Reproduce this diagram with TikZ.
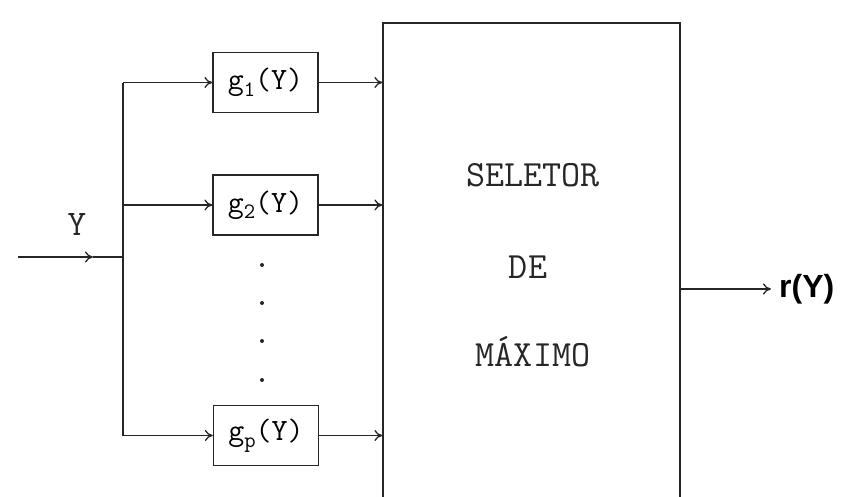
\documentclass[tikz,border=0pt]{standalone}
\usepackage{fontspec}
\newfontfamily\boldsans{Liberation Sans}[BoldFont={* Bold}]
\usetikzlibrary{arrows.meta}
\tikzset{
  line/.style={line width=1.3pt, draw=black!85},
  arr/.style={line, -{To[length=8pt,width=11pt,line width=1.3pt]}},
  gbox/.style={line, rectangle, minimum width=105pt, minimum height=60pt, inner sep=0pt,
    font=\ttfamily\fontsize{31}{33}\selectfont},
  seltext/.style={font=\ttfamily\fontsize{37}{39}\selectfont, text=black!85},
  dotmark/.style={circle, fill=black!85, inner sep=0pt, minimum size=4pt}
}
\newcommand{\gsub}[1]{\raisebox{-0.5ex}{\fontsize{22}{22}\selectfont #1}}
\begin{document}
\begin{tikzpicture}[x=1pt,y=-1pt]
\useasboundingbox (0,0) rectangle (844,496);
\clip (0,0) rectangle (844,496);
% main selector box (bottom runs off the picture)
\node[line, draw, rectangle, minimum width=297pt, minimum height=500pt, inner sep=0pt] (sel) at (531.5,273) {};
\node[seltext] (t1) at (533,175) {SELETOR};
\node[seltext] (t2) at (528,267) {DE};
\node[seltext] (t3) at (533,352) {MÁXIMO};
% g boxes
\node[gbox] (g1) at (265.5,82.5) {g\gsub{1}(Y)};
\node[gbox] (g2) at (265.5,205) {g\gsub{2}(Y)};
\node[gbox] (gp) at (266,435.5) {g\gsub{p}(Y)};
% input
\coordinate (in) at (18,257);
\coordinate (inmid) at (93,257);
\coordinate (jn) at (123,257);
\node[font=\ttfamily\fontsize{36}{38}\selectfont, text=black!85] (ylab) at (77,224) {Y};
\draw[arr] (in) -- (inmid);
\draw[line] (inmid) -- (jn);
\coordinate (b1) at (123,82.5);
\coordinate (b2) at (123,205);
\coordinate (bp) at (123,435.5);
\draw[line] (b1) -- (bp);
\draw[arr] (b1) -- (g1.west);
\draw[arr] (b2) -- (g2.west);
\draw[arr] (bp) -- (gp.west);
% to selector
\draw[arr] (g1.east) -- (g1.east -| sel.west);
\draw[arr] (g2.east) -- (g2.east -| sel.west);
\draw[arr] (gp.east) -- (gp.east -| sel.west);
% dots
\node[dotmark] (d1) at (262,265) {};
\node[dotmark] (d2) at (262,303) {};
\node[dotmark] (d3) at (262,341) {};
\node[dotmark] (d4) at (262,380) {};
% output
\coordinate (o1) at (sel.east |- 0,289);
\node[anchor=west, inner sep=0pt, font=\boldsans\bfseries\fontsize{32}{34}\selectfont] (out) at (779,289) {r(Y)};
\draw[arr] (o1) -- ([xshift=-8pt]out.west);
\end{tikzpicture}
\end{document}
